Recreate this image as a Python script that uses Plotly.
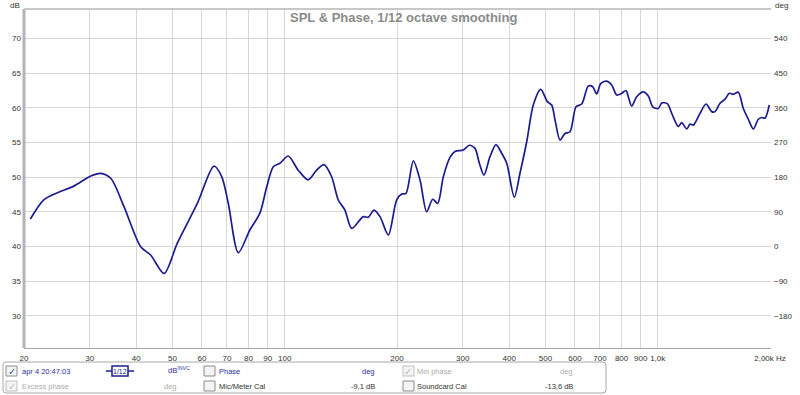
import plotly.graph_objects as go

# ---- data (frequency in Hz, SPL in dB) ----
freq_hz = [20.8, 22.6, 24.6, 27.2, 30.2, 32.1, 34.2, 37.1, 41.1, 43.7, 47.5, 51.5, 58.3,
           64.6, 67.8, 70.6, 75.1, 80.7, 85.8, 89.5, 93.2, 97.1, 102.2, 108.7, 115.6, 121.8,
           127.4, 133.6, 139.2, 145.0, 151.2, 162.4, 167.5, 173.5, 180.1, 189.6, 199.6, 205.9,
           211.4, 221.2, 230.5, 240.2, 249.3, 257.1, 266.2, 277.4, 286.1, 301.2, 312.5, 323.7,
           332.5, 342.2, 355.1, 368.5, 381.7, 393.7, 412.6, 427.3, 445.4, 463.9, 485.6, 505.9,
           519.8, 530.5, 547.1, 564.2, 582.0, 603.9, 625.5, 651.6, 669.5, 686.2, 703.3, 729.8,
           752.8, 776.4, 800.7, 822.2, 834.0, 851.7, 878.4, 914.9, 943.7, 969.6, 1003.7, 1025.0,
           1061.1, 1090.3, 1135.6, 1159.7, 1196.1, 1220.7, 1245.8, 1298.4, 1347.4, 1395.6,
           1424.3, 1469.0, 1515.1, 1555.9, 1594.7, 1644.8, 1696.3, 1749.6, 1804.4, 1861.0,
           1900.5, 1939.2, 1991.4]
spl_db = [43.95, 46.7, 47.75, 48.7, 50.15, 50.55, 49.8, 45.7, 39.96, 38.76, 36.1, 40.45, 46.2,
          51.6, 50.05, 46.2, 39.1, 42.4, 44.8, 48.6, 51.5, 52.0, 53.05, 51.0, 49.6, 51.0,
          51.8, 50.05, 46.7, 45.25, 42.6, 44.3, 44.2, 45.25, 44.3, 41.65, 46.7, 47.55,
          47.65, 52.35, 49.6, 45.0, 46.8, 46.2, 50.05, 52.85, 53.7, 53.9, 54.6, 54.15,
          52.0, 50.3, 52.95, 54.7, 53.45, 52.0, 47.1, 50.55, 55.1, 60.4, 62.65, 60.9,
          60.4, 58.25, 55.35, 56.3, 56.55, 60.15, 60.55, 63.15, 63.05, 62.0, 63.5, 63.85,
          63.3, 61.85, 62.1, 62.5, 61.6, 60.25, 61.6, 62.3, 61.7, 60.15, 59.9, 60.7,
          60.6, 59.2, 57.3, 57.85, 56.95, 57.65, 57.5, 59.2, 60.55, 59.45,
          59.45, 60.65, 61.25, 62.1, 61.95, 62.25, 59.9, 58.35, 56.95, 58.35,
          58.6, 58.5, 60.4]

x_ticks = [20, 30, 40, 50, 60, 70, 80, 90, 100, 200, 300, 400, 500, 600, 700, 800, 900, 1000, 2000]
x_labels = ["20", "30", "40", "50", "60", "70", "80", "90", "100", "200", "300", "400", "500",
            "600", "700", "800", "900", "1,0k", "2,00k Hz"]
y_ticks = [30, 35, 40, 45, 50, 55, 60, 65, 70]
deg_ticks = [-180, -90, 0, 90, 180, 270, 360, 450, 540]

title_text = "SPL & Phase, 1/12 octave smoothing"

# ---- geometry ----
W, H = 800, 395
L, R, T, B = 24, 29, 9, 47
PW, PH = W - L - R, H - T - B
y_range = [25.34, 74.26]
deg_range = [(y_range[0] - 40) * 18, (y_range[1] - 40) * 18]


def px(xp):
    return (xp - L) / PW


def py(yp):
    return (H - B - yp) / PH


FONT = "Liberation Sans, Arial, sans-serif"
LINE = "#1c1c8e"

fig = go.Figure()
fig.add_trace(go.Scatter(x=freq_hz, y=spl_db, mode="lines",
                         line=dict(color=LINE, width=1.7, shape="spline", smoothing=0.8),
                         hoverinfo="x+y", showlegend=False))
# phase axis carrier (invisible)
fig.add_trace(go.Scatter(x=[freq_hz[0]], y=[0], yaxis="y2", mode="markers",
                         marker=dict(opacity=0), hoverinfo="skip", showlegend=False))

axis_font = dict(family=FONT, size=8, color="#333333")
fig.update_layout(
    width=W, height=H, margin=dict(l=L, r=R, t=T, b=B, autoexpand=False),
    paper_bgcolor="white", plot_bgcolor="white",
    xaxis=dict(type="log", range=[1.30103, 3.3037], tickvals=x_ticks, ticktext=x_labels,
               showgrid=True, gridcolor="#d6d6d6", gridwidth=1, zeroline=False,
               showline=True, linecolor="#a8a8a8", linewidth=1, mirror=True,
               ticks="", tickfont=axis_font, ticklabelstandoff=2),
    yaxis=dict(range=y_range, tickvals=y_ticks, showgrid=True, gridcolor="#d6d6d6",
               zeroline=False, showline=False, ticks="", tickfont=axis_font,
               ticklabelstandoff=2),
    yaxis2=dict(range=deg_range, tickvals=deg_ticks, overlaying="y", side="right",
                showgrid=False, zeroline=False, showline=False, ticks="",
                tickfont=axis_font, ticklabelstandoff=2),
    hovermode="closest",
)

shapes = []
# plot frame
shapes.append(dict(type="line", xref="paper", yref="paper", x0=0, x1=0, y0=0, y1=1,
                   line=dict(color="#b4b4b4", width=3)))
shapes.append(dict(type="line", xref="paper", yref="paper", x0=0, x1=1, y0=1, y1=1,
                   line=dict(color="#c8c8c8", width=2)))

# legend panel box (rounded)
x0, x1, y0, y1, r = px(3), px(606), py(393), py(362), 3
rx, ry = r / PW, r / PH
path = (f"M {x0+rx},{y1} L {x1-rx},{y1} Q {x1},{y1} {x1},{y1-ry} L {x1},{y0+ry} "
        f"Q {x1},{y0} {x1-rx},{y0} L {x0+rx},{y0} Q {x0},{y0} {x0},{y0+ry} "
        f"L {x0},{y1-ry} Q {x0},{y1} {x0+rx},{y1} Z")
shapes.append(dict(type="path", xref="paper", yref="paper", path=path,
                   line=dict(color="#a8a8a8", width=1), fillcolor="white", layer="below"))

# checkboxes
def checkbox(xl, yc, border="#8c8c8c"):
    shapes.append(dict(type="rect", xref="paper", yref="paper",
                       x0=px(xl), x1=px(xl + 11), y0=py(yc + 5), y1=py(yc - 5),
                       line=dict(color=border, width=1), fillcolor="#f4f4f4"))

row1, row2 = 371, 386
checkbox(6, row1)
checkbox(6, row2, "#c0c0c0")
checkbox(204, row1)
checkbox(204, row2)
checkbox(403, row1, "#c0c0c0")
checkbox(403, row2)

# smoothing icon
shapes.append(dict(type="rect", xref="paper", yref="paper", x0=px(112), x1=px(128),
                   y0=py(376), y1=py(366), line=dict(color=LINE, width=1.5)))
shapes.append(dict(type="line", xref="paper", yref="paper", x0=px(106), x1=px(112),
                   y0=py(371), y1=py(371), line=dict(color=LINE, width=1.5)))
shapes.append(dict(type="line", xref="paper", yref="paper", x0=px(128), x1=px(134),
                   y0=py(371), y1=py(371), line=dict(color=LINE, width=1.5)))

fig.update_layout(shapes=shapes)

ann = []


def text(t, xp, yp, color, size=7.5, anchor="left", bold=False, family=FONT):
    ann.append(dict(text=(f"<b>{t}</b>" if bold else t), x=px(xp), y=py(yp),
                    xref="paper", yref="paper", xanchor=anchor, yanchor="middle",
                    showarrow=False, font=dict(family=family, size=size, color=color)))


# title and axis units
text(title_text, 403, 17, "#8a8a8a", size=13, anchor="center", bold=True)
text("dB", 22, 5, "#333333", size=8, anchor="right")
text("deg", 773, 5, "#333333", size=8, anchor="left")

BLUE = "#2e2ea6"
GRAY = "#ababab"
DARK = "#333333"
# checkmarks
text("✓", 11.5, row1, "#4a5aa8", size=10, anchor="center", family="DejaVu Sans")
text("✓", 11.5, row2, "#c0c0c0", size=10, anchor="center", family="DejaVu Sans")
text("✓", 408.5, row1, "#c0c0c0", size=10, anchor="center", family="DejaVu Sans")
# row 1
text("apr 4 20:47:03", 20, row1, BLUE)
text("1/12", 120, row1 + 0.5, LINE, size=7, anchor="center")
text("dB<sup>INVC</sup>", 192, row1 - 1, BLUE, anchor="right")
text("Phase", 217, row1, BLUE)
text("deg", 377, row1, BLUE, anchor="right")
text("Min phase", 415, row1, GRAY)
text("deg", 575, row1, GRAY, anchor="right")
# row 2
text("Excess phase", 20, row2, GRAY)
text("deg", 179, row2, GRAY, anchor="right")
text("Mic/Meter Cal", 217, row2, DARK)
text("-9,1 dB", 377, row2, DARK, anchor="right")
text("Soundcard Cal", 415, row2, DARK)
text("-13,6 dB", 575, row2, DARK, anchor="right")

fig.update_layout(annotations=ann)

fig.write_html("out.html", config={"displayModeBar": False},
               post_script="document.body.style.margin='0';")
